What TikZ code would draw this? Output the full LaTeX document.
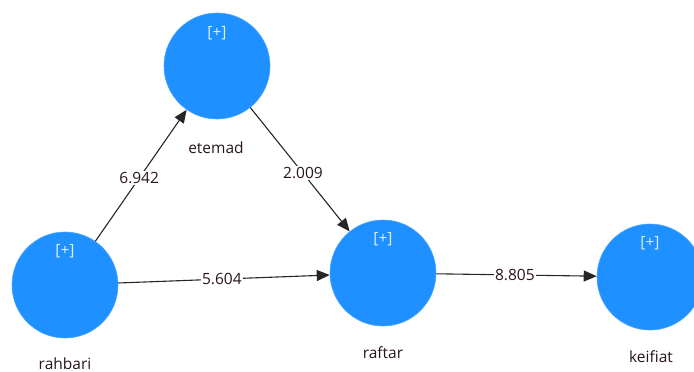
\documentclass[tikz,border=0pt]{standalone}
\usepackage{fontspec}
\setmainfont{Open Sans}
\usetikzlibrary{arrows.meta}
\definecolor{lvblue}{RGB}{30,144,255}
\definecolor{lbltxt}{RGB}{40,20,30}
\tikzset{
  lv/.style={circle, fill=lvblue, draw=lvblue!80!white, line width=0.6pt, minimum size=106pt, inner sep=0pt},
  plus/.style={text=white!85!lvblue, font=\fontsize{15.5}{17}\selectfont},
  lvname/.style={text=lbltxt, font=\fontsize{15.5}{17}\selectfont},
  pathline/.style={draw=black!85, line width=1.1pt, -{Triangle[length=13pt,width=11pt]}},
  coef/.style={fill=white, inner sep=1pt, text=lbltxt, font=\fontsize{15.5}{17}\selectfont}
}
\begin{document}
\begin{tikzpicture}[x=1pt,y=-1pt]
\useasboundingbox (0,0) rectangle (694,372);
\node[lv] (etemad) at (217,66) {};
\node[lv] (rahbari) at (65,285) {};
\node[lv] (raftar) at (383,273) {};
\node[lv] (keifiat) at (650,277) {};
\node[plus] (p1) at (217,33) {[+]};
\node[plus] (p2) at (65,251) {[+]};
\node[plus] (p3) at (383,239) {[+]};
\node[plus] (p4) at (650,243) {[+]};
\node[lvname] (n1) at (216,148) {etemad};
\node[lvname] (n2) at (65,364) {rahbari};
\node[lvname] (n3) at (383,353) {raftar};
\node[lvname] (n4) at (651,357) {keifiat};
\draw[pathline] (rahbari) -- node[coef, pos=0.48] {6.942} (etemad);
\draw[pathline] (etemad) -- node[coef, pos=0.53] {2.009} (raftar);
\draw[pathline] (rahbari) -- node[coef, pos=0.49] {5.604} (raftar);
\draw[pathline] (raftar) -- node[coef, pos=0.49] {8.805} (keifiat);
\end{tikzpicture}
\end{document}
